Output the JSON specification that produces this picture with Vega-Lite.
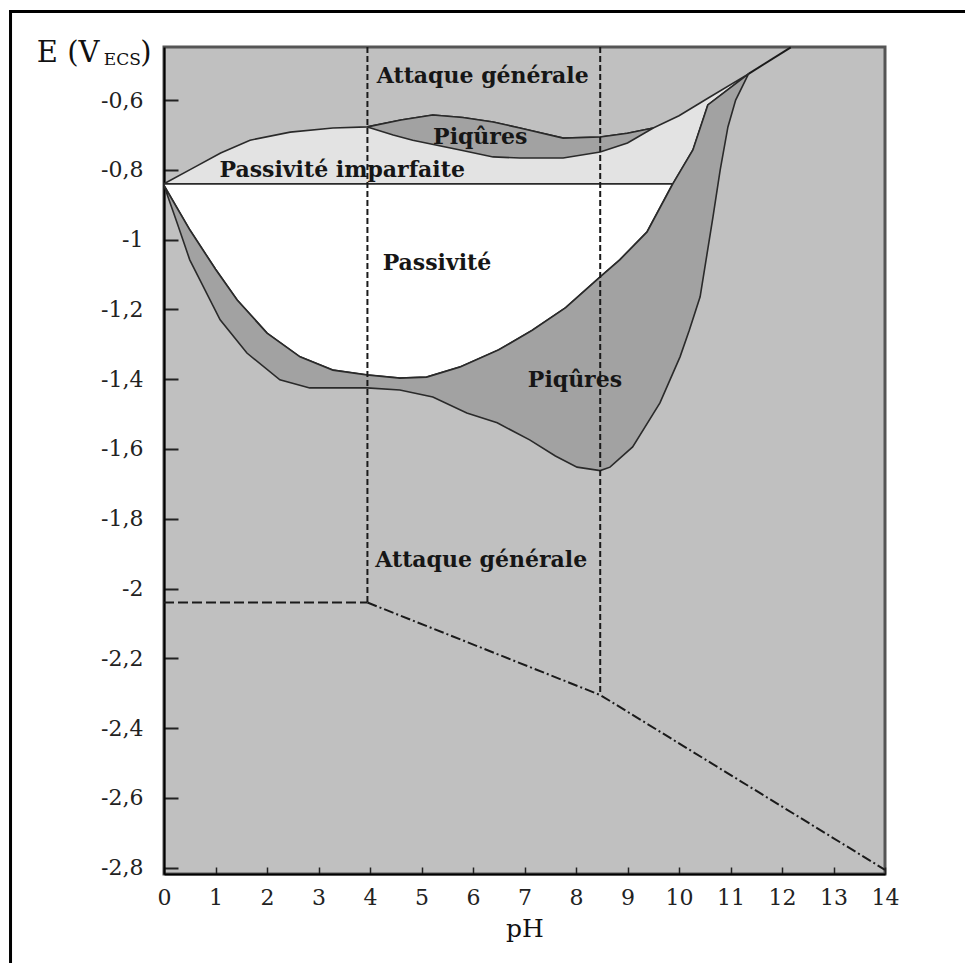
{
  "$schema": "https://vega.github.io/schema/vega-lite/v6.json",
  "width": 721,
  "height": 827,
  "autosize": {"type": "none"},
  "padding": {"left": 164, "top": 47, "right": 80, "bottom": 89},
  "background": "white",
  "config": {
    "font": "DejaVu Serif",
    "view": {"fill": "#c0c0c0", "stroke": "#555555", "strokeWidth": 3}
  },
  "datasets": {
    "poly": [
      {"shape": "light", "i": 0, "pH": 0, "E": -0.84},
      {"shape": "light", "i": 1, "pH": 0.56, "E": -0.795},
      {"shape": "light", "i": 2, "pH": 1.1, "E": -0.752},
      {"shape": "light", "i": 3, "pH": 1.67, "E": -0.715},
      {"shape": "light", "i": 4, "pH": 2.45, "E": -0.692},
      {"shape": "light", "i": 5, "pH": 3.28, "E": -0.68},
      {"shape": "light", "i": 6, "pH": 3.95, "E": -0.677},
      {"shape": "light", "i": 7, "pH": 4.6, "E": -0.657},
      {"shape": "light", "i": 8, "pH": 5.22, "E": -0.643},
      {"shape": "light", "i": 9, "pH": 5.8, "E": -0.65},
      {"shape": "light", "i": 10, "pH": 6.39, "E": -0.663},
      {"shape": "light", "i": 11, "pH": 6.91, "E": -0.68},
      {"shape": "light", "i": 12, "pH": 7.75, "E": -0.709},
      {"shape": "light", "i": 13, "pH": 8.47, "E": -0.706},
      {"shape": "light", "i": 14, "pH": 9.0, "E": -0.695},
      {"shape": "light", "i": 15, "pH": 9.5, "E": -0.68},
      {"shape": "light", "i": 16, "pH": 10.0, "E": -0.645},
      {"shape": "light", "i": 17, "pH": 10.56, "E": -0.595},
      {"shape": "light", "i": 18, "pH": 11.35, "E": -0.525},
      {"shape": "light", "i": 19, "pH": 10.56, "E": -0.614},
      {"shape": "light", "i": 20, "pH": 10.27, "E": -0.743},
      {"shape": "light", "i": 21, "pH": 9.88, "E": -0.84},
      {"shape": "light", "i": 22, "pH": 0, "E": -0.84},

      {"shape": "white", "i": 0, "pH": 0, "E": -0.84},
      {"shape": "white", "i": 1, "pH": 9.88, "E": -0.84},
      {"shape": "white", "i": 2, "pH": 9.38, "E": -0.978},
      {"shape": "white", "i": 3, "pH": 8.85, "E": -1.058},
      {"shape": "white", "i": 4, "pH": 8.47, "E": -1.107},
      {"shape": "white", "i": 5, "pH": 7.8, "E": -1.195},
      {"shape": "white", "i": 6, "pH": 7.15, "E": -1.26},
      {"shape": "white", "i": 7, "pH": 6.5, "E": -1.316},
      {"shape": "white", "i": 8, "pH": 5.75, "E": -1.365},
      {"shape": "white", "i": 9, "pH": 5.1, "E": -1.394},
      {"shape": "white", "i": 10, "pH": 4.58, "E": -1.397},
      {"shape": "white", "i": 11, "pH": 3.94, "E": -1.388},
      {"shape": "white", "i": 12, "pH": 3.28, "E": -1.374},
      {"shape": "white", "i": 13, "pH": 2.64, "E": -1.336},
      {"shape": "white", "i": 14, "pH": 2.0, "E": -1.268},
      {"shape": "white", "i": 15, "pH": 1.42, "E": -1.173},
      {"shape": "white", "i": 16, "pH": 1.0, "E": -1.085},
      {"shape": "white", "i": 17, "pH": 0.5, "E": -0.972},
      {"shape": "white", "i": 18, "pH": 0, "E": -0.845},
      {"shape": "white", "i": 19, "pH": 0, "E": -0.84},

      {"shape": "pit1", "i": 0, "pH": 3.95, "E": -0.677},
      {"shape": "pit1", "i": 1, "pH": 4.6, "E": -0.657},
      {"shape": "pit1", "i": 2, "pH": 5.22, "E": -0.643},
      {"shape": "pit1", "i": 3, "pH": 5.8, "E": -0.65},
      {"shape": "pit1", "i": 4, "pH": 6.39, "E": -0.663},
      {"shape": "pit1", "i": 5, "pH": 6.91, "E": -0.68},
      {"shape": "pit1", "i": 6, "pH": 7.75, "E": -0.709},
      {"shape": "pit1", "i": 7, "pH": 8.47, "E": -0.706},
      {"shape": "pit1", "i": 8, "pH": 9.0, "E": -0.695},
      {"shape": "pit1", "i": 9, "pH": 9.5, "E": -0.68},
      {"shape": "pit1", "i": 10, "pH": 9.0, "E": -0.723},
      {"shape": "pit1", "i": 11, "pH": 8.47, "E": -0.749},
      {"shape": "pit1", "i": 12, "pH": 7.75, "E": -0.766},
      {"shape": "pit1", "i": 13, "pH": 6.91, "E": -0.766},
      {"shape": "pit1", "i": 14, "pH": 6.39, "E": -0.763},
      {"shape": "pit1", "i": 15, "pH": 5.75, "E": -0.743},
      {"shape": "pit1", "i": 16, "pH": 4.83, "E": -0.715},
      {"shape": "pit1", "i": 17, "pH": 4.45, "E": -0.7},
      {"shape": "pit1", "i": 18, "pH": 3.95, "E": -0.677},

      {"shape": "pit2", "i": 0, "pH": 0, "E": -0.845},
      {"shape": "pit2", "i": 1, "pH": 0.5, "E": -0.972},
      {"shape": "pit2", "i": 2, "pH": 1.0, "E": -1.085},
      {"shape": "pit2", "i": 3, "pH": 1.42, "E": -1.173},
      {"shape": "pit2", "i": 4, "pH": 2.0, "E": -1.268},
      {"shape": "pit2", "i": 5, "pH": 2.64, "E": -1.336},
      {"shape": "pit2", "i": 6, "pH": 3.28, "E": -1.374},
      {"shape": "pit2", "i": 7, "pH": 3.94, "E": -1.388},
      {"shape": "pit2", "i": 8, "pH": 4.58, "E": -1.397},
      {"shape": "pit2", "i": 9, "pH": 5.1, "E": -1.394},
      {"shape": "pit2", "i": 10, "pH": 5.75, "E": -1.365},
      {"shape": "pit2", "i": 11, "pH": 6.5, "E": -1.316},
      {"shape": "pit2", "i": 12, "pH": 7.15, "E": -1.26},
      {"shape": "pit2", "i": 13, "pH": 7.8, "E": -1.195},
      {"shape": "pit2", "i": 14, "pH": 8.47, "E": -1.107},
      {"shape": "pit2", "i": 15, "pH": 8.85, "E": -1.058},
      {"shape": "pit2", "i": 16, "pH": 9.38, "E": -0.978},
      {"shape": "pit2", "i": 17, "pH": 9.88, "E": -0.84},
      {"shape": "pit2", "i": 18, "pH": 10.27, "E": -0.743},
      {"shape": "pit2", "i": 19, "pH": 10.56, "E": -0.614},
      {"shape": "pit2", "i": 20, "pH": 11.35, "E": -0.525},
      {"shape": "pit2", "i": 21, "pH": 11.1, "E": -0.6},
      {"shape": "pit2", "i": 22, "pH": 10.95, "E": -0.677},
      {"shape": "pit2", "i": 23, "pH": 10.8, "E": -0.8},
      {"shape": "pit2", "i": 24, "pH": 10.66, "E": -0.935},
      {"shape": "pit2", "i": 25, "pH": 10.41, "E": -1.164},
      {"shape": "pit2", "i": 26, "pH": 10.2, "E": -1.26},
      {"shape": "pit2", "i": 27, "pH": 10.02, "E": -1.336},
      {"shape": "pit2", "i": 28, "pH": 9.63, "E": -1.468},
      {"shape": "pit2", "i": 29, "pH": 9.1, "E": -1.594},
      {"shape": "pit2", "i": 30, "pH": 8.66, "E": -1.652},
      {"shape": "pit2", "i": 31, "pH": 8.47, "E": -1.662},
      {"shape": "pit2", "i": 32, "pH": 8.02, "E": -1.652},
      {"shape": "pit2", "i": 33, "pH": 7.6, "E": -1.62},
      {"shape": "pit2", "i": 34, "pH": 7.1, "E": -1.574},
      {"shape": "pit2", "i": 35, "pH": 6.47, "E": -1.525},
      {"shape": "pit2", "i": 36, "pH": 5.88, "E": -1.497},
      {"shape": "pit2", "i": 37, "pH": 5.22, "E": -1.451},
      {"shape": "pit2", "i": 38, "pH": 4.58, "E": -1.431},
      {"shape": "pit2", "i": 39, "pH": 3.94, "E": -1.425},
      {"shape": "pit2", "i": 40, "pH": 2.83, "E": -1.425},
      {"shape": "pit2", "i": 41, "pH": 2.25, "E": -1.402},
      {"shape": "pit2", "i": 42, "pH": 1.61, "E": -1.325},
      {"shape": "pit2", "i": 43, "pH": 1.09, "E": -1.23},
      {"shape": "pit2", "i": 44, "pH": 0.5, "E": -1.058},
      {"shape": "pit2", "i": 45, "pH": 0.25, "E": -0.95},
      {"shape": "pit2", "i": 46, "pH": 0, "E": -0.845}
    ],
    "lines": [
      {"line": "top", "i": 0, "pH": 11.35, "E": -0.525},
      {"line": "top", "i": 1, "pH": 12.17, "E": -0.449},
      {"line": "v4", "i": 0, "pH": 3.95, "E": -0.448},
      {"line": "v4", "i": 1, "pH": 3.95, "E": -2.04},
      {"line": "v85", "i": 0, "pH": 8.47, "E": -0.448},
      {"line": "v85", "i": 1, "pH": 8.47, "E": -2.305},
      {"line": "h2", "i": 0, "pH": 0, "E": -2.04},
      {"line": "h2", "i": 1, "pH": 3.95, "E": -2.04},
      {"line": "dd", "i": 0, "pH": 3.95, "E": -2.04},
      {"line": "dd", "i": 1, "pH": 8.47, "E": -2.305},
      {"line": "dd", "i": 2, "pH": 14, "E": -2.806}
    ],
    "labels": [
      {"text": "Attaque générale", "pH": 6.19, "E": -0.531},
      {"text": "Piqûres", "pH": 6.14, "E": -0.706},
      {"text": "Passivité imparfaite", "pH": 3.46, "E": -0.8},
      {"text": "Passivité", "pH": 5.3, "E": -1.067},
      {"text": "Piqûres", "pH": 7.98, "E": -1.402},
      {"text": "Attaque générale", "pH": 6.16, "E": -1.918}
    ],
    "ytitle": [
      {"part": "main", "text": "E (V", "pH": -2.47, "E": -0.491},
      {"part": "sub", "text": "ECS", "pH": -1.17, "E": -0.5},
      {"part": "main", "text": ")", "pH": -0.46, "E": -0.491}
    ],
    "frame": [
      {"x1": -2.98, "x2": 16.5, "y1": -0.346, "y2": -3.3}
    ]
  },
  "encoding": {
    "x": {
      "field": "pH", "type": "quantitative",
      "scale": {"domain": [0, 14], "nice": false, "zero": false},
      "axis": {
        "title": "pH", "values": [0,1,2,3,4,5,6,7,8,9,10,11,12,13,14],
        "grid": false, "domainColor": "#000000", "domainWidth": 2,
        "tickColor": "#222222", "tickWidth": 1.5, "tickSize": -7,
        "labelFont": "DejaVu Serif", "labelFontSize": 22, "labelColor": "#222222",
        "labelPadding": 20, "labelFlush": false,
        "titleFont": "DejaVu Serif", "titleFontSize": 25, "titleFontWeight": "normal",
        "titleColor": "#111111", "titlePadding": 8
      }
    },
    "y": {
      "field": "E", "type": "quantitative",
      "scale": {"domain": [-2.818, -0.448], "nice": false, "zero": false},
      "axis": {
        "title": null,
        "values": [-0.6, -0.8, -1, -1.2, -1.4, -1.6, -1.8, -2, -2.2, -2.4, -2.6, -2.8],
        "labelExpr": "replace(toString(datum.value), '.', ',')",
        "grid": false, "domainColor": "#000000", "domainWidth": 2,
        "tickColor": "#222222", "tickWidth": 2, "tickSize": -14,
        "labelFont": "DejaVu Serif", "labelFontSize": 22, "labelColor": "#222222",
        "labelPadding": 35, "labelFlush": false
      }
    }
  },
  "layer": [
    {
      "data": {"name": "frame"},
      "mark": {"type": "rect", "fill": null, "stroke": "#000000", "strokeWidth": 3, "clip": false},
      "encoding": {
        "x": {"field": "x1", "type": "quantitative"},
        "x2": {"field": "x2"},
        "y": {"field": "y1", "type": "quantitative"},
        "y2": {"field": "y2"}
      }
    },
    {
      "data": {"name": "poly"},
      "transform": [{"filter": "datum.shape === 'light'"}],
      "mark": {"type": "line", "fill": "#e3e3e3", "stroke": "#2a2a2a", "strokeWidth": 1.6},
      "encoding": {"order": {"field": "i", "type": "quantitative"}}
    },
    {
      "data": {"name": "poly"},
      "transform": [{"filter": "datum.shape === 'white'"}],
      "mark": {"type": "line", "fill": "#ffffff", "stroke": "#2a2a2a", "strokeWidth": 1.8},
      "encoding": {"order": {"field": "i", "type": "quantitative"}}
    },
    {
      "data": {"name": "poly"},
      "transform": [{"filter": "datum.shape === 'pit1'"}],
      "mark": {"type": "line", "fill": "#a2a2a2", "stroke": "#2a2a2a", "strokeWidth": 1.6},
      "encoding": {"order": {"field": "i", "type": "quantitative"}}
    },
    {
      "data": {"name": "poly"},
      "transform": [{"filter": "datum.shape === 'pit2'"}],
      "mark": {"type": "line", "fill": "#a2a2a2", "stroke": "#2a2a2a", "strokeWidth": 1.6},
      "encoding": {"order": {"field": "i", "type": "quantitative"}}
    },
    {
      "data": {"name": "lines"},
      "transform": [{"filter": "datum.line === 'top'"}],
      "mark": {"type": "line", "stroke": "#1a1a1a", "strokeWidth": 2},
      "encoding": {"order": {"field": "i", "type": "quantitative"}}
    },
    {
      "data": {"name": "lines"},
      "transform": [{"filter": "datum.line === 'v4' || datum.line === 'v85'"}],
      "mark": {"type": "line", "stroke": "#1a1a1a", "strokeWidth": 2, "strokeDash": [6, 3]},
      "encoding": {"detail": {"field": "line"}, "order": {"field": "i", "type": "quantitative"}}
    },
    {
      "data": {"name": "lines"},
      "transform": [{"filter": "datum.line === 'h2'"}],
      "mark": {"type": "line", "stroke": "#1a1a1a", "strokeWidth": 2, "strokeDash": [10, 4]},
      "encoding": {"order": {"field": "i", "type": "quantitative"}}
    },
    {
      "data": {"name": "lines"},
      "transform": [{"filter": "datum.line === 'dd'"}],
      "mark": {"type": "line", "stroke": "#1a1a1a", "strokeWidth": 2, "strokeDash": [10, 3, 2, 3]},
      "encoding": {"order": {"field": "i", "type": "quantitative"}}
    },
    {
      "data": {"name": "labels"},
      "mark": {"type": "text", "font": "DejaVu Serif", "fontWeight": "bold", "fontSize": 22, "color": "#161616", "align": "center", "baseline": "middle"},
      "encoding": {"text": {"field": "text"}}
    },
    {
      "data": {"name": "ytitle"},
      "transform": [{"filter": "datum.part === 'main'"}],
      "mark": {"type": "text", "font": "DejaVu Serif", "fontSize": 29, "color": "#111111", "align": "left", "baseline": "alphabetic", "clip": false},
      "encoding": {"text": {"field": "text"}}
    },
    {
      "data": {"name": "ytitle"},
      "transform": [{"filter": "datum.part === 'sub'"}],
      "mark": {"type": "text", "font": "DejaVu Serif", "fontSize": 17, "color": "#111111", "align": "left", "baseline": "alphabetic", "clip": false},
      "encoding": {"text": {"field": "text"}}
    }
  ]
}
